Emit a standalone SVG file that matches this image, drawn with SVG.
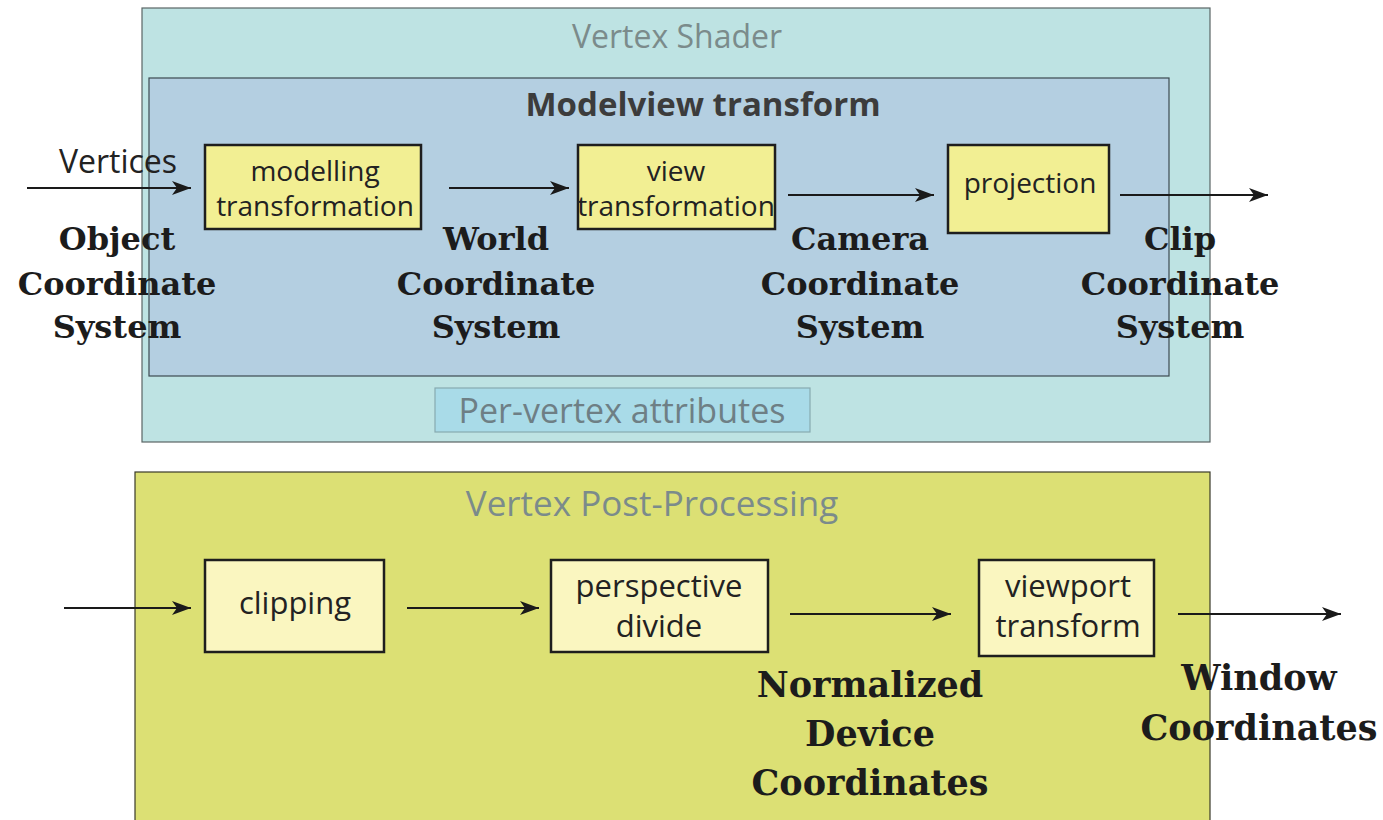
<svg xmlns="http://www.w3.org/2000/svg" width="1383" height="820" viewBox="0 0 1383 820">
<defs>
<marker id="ah" markerWidth="20" markerHeight="16" refX="19" refY="8" orient="auto" markerUnits="userSpaceOnUse">
<path d="M0,1 L19,8 L0,15 L5,8 Z" fill="#1a1a1a"/>
</marker>
<style>
.sans{font-family:"Open Sans","Noto Sans","Liberation Sans",sans-serif;}
.title{fill:#7b8b8b;text-anchor:middle;}
.box{stroke:#1e1e1e;stroke-width:2.5;}
.ybox{fill:#f2ef93;}
.pbox{fill:#faf6c0;}
.bt{font-size:28px;fill:#222;text-anchor:middle;}
.bt2{font-size:31px;fill:#222;text-anchor:middle;}
.lab{font-family:"DejaVu Serif","Liberation Serif",serif;font-weight:bold;fill:#1c1c1c;text-anchor:middle;}
.l1{font-size:32px;}
.l2{font-size:35px;}
.conn line{stroke:#1a1a1a;stroke-width:2;marker-end:url(#ah);}
</style>
</defs>
<rect width="1383" height="820" fill="#ffffff"/>

<g id="vertex-shader">
<rect x="142" y="8" width="1068" height="434" fill="#bee3e3" stroke="#5a6565" stroke-width="1.2"/>
<text class="sans title" x="677" y="48" font-size="32">Vertex Shader</text>
</g>

<g id="modelview">
<rect x="149" y="78" width="1020" height="298" fill="#b4cfe1" stroke="#3c4a50" stroke-width="1.2"/>
<text class="sans" x="703" y="116" font-size="33" font-weight="bold" fill="#3c3c3c" text-anchor="middle">Modelview transform</text>
</g>

<g id="per-vertex">
<rect x="435" y="388" width="375" height="44" fill="#a9dbe8" stroke="#88aab0" stroke-width="1.2"/>
<text class="sans" x="622" y="423" font-size="34" fill="#6e7f85" text-anchor="middle">Per-vertex attributes</text>
</g>

<g id="post-processing">
<rect x="135" y="472" width="1075" height="360" fill="#dce074" stroke="#3a3a2a" stroke-width="1.2"/>
<text class="sans title" x="652" y="516" font-size="35" fill="#7e8a70">Vertex Post-Processing</text>
</g>

<g id="vertices-label">
<text class="sans" x="118" y="173" font-size="32" fill="#222" text-anchor="middle">Vertices</text>
</g>

<g id="modelling">
<rect class="box ybox" x="205" y="145" width="216" height="84"/>
<text class="sans bt" x="315" y="181">modelling</text>
<text class="sans bt" x="315" y="216">transformation</text>
</g>

<g id="view">
<rect class="box ybox" x="578" y="145" width="197" height="84"/>
<text class="sans bt" x="676" y="181">view</text>
<text class="sans bt" x="676" y="216">transformation</text>
</g>

<g id="projection">
<rect class="box ybox" x="948" y="145" width="161" height="88"/>
<text class="sans bt" x="1030" y="193">projection</text>
</g>

<g id="clipping">
<rect class="box pbox" x="205" y="560" width="179" height="92"/>
<text class="sans bt2" x="295" y="614">clipping</text>
</g>

<g id="perspective">
<rect class="box pbox" x="551" y="560" width="217" height="92"/>
<text class="sans bt2" x="659" y="597">perspective</text>
<text class="sans bt2" x="659" y="637">divide</text>
</g>

<g id="viewport">
<rect class="box pbox" x="979" y="560" width="175" height="96"/>
<text class="sans bt2" x="1068" y="597">viewport</text>
<text class="sans bt2" x="1068" y="637">transform</text>
</g>

<g id="object-cs">
<text class="lab l1" x="117" y="250">Object</text>
<text class="lab l1" x="117" y="295">Coordinate</text>
<text class="lab l1" x="117" y="338">System</text>
</g>
<g id="world-cs">
<text class="lab l1" x="496" y="250">World</text>
<text class="lab l1" x="496" y="295">Coordinate</text>
<text class="lab l1" x="496" y="338">System</text>
</g>
<g id="camera-cs">
<text class="lab l1" x="860" y="250">Camera</text>
<text class="lab l1" x="860" y="295">Coordinate</text>
<text class="lab l1" x="860" y="338">System</text>
</g>
<g id="clip-cs">
<text class="lab l1" x="1180" y="250">Clip</text>
<text class="lab l1" x="1180" y="295">Coordinate</text>
<text class="lab l1" x="1180" y="338">System</text>
</g>
<g id="ndc">
<text class="lab l2" x="870" y="697">Normalized</text>
<text class="lab l2" x="870" y="746">Device</text>
<text class="lab l2" x="870" y="795">Coordinates</text>
</g>
<g id="window">
<text class="lab l2" x="1259" y="690">Window</text>
<text class="lab l2" x="1259" y="740">Coordinates</text>
</g>

<g id="connectors" class="conn">
<line x1="27" y1="188" x2="191" y2="188"/>
<line x1="449" y1="188" x2="569" y2="188"/>
<line x1="788" y1="195" x2="934" y2="195"/>
<line x1="1120" y1="195" x2="1268" y2="195"/>
<line x1="64" y1="608" x2="191" y2="608"/>
<line x1="407" y1="608" x2="539" y2="608"/>
<line x1="790" y1="614" x2="951" y2="614"/>
<line x1="1178" y1="614" x2="1341" y2="614"/>
</g>
</svg>
